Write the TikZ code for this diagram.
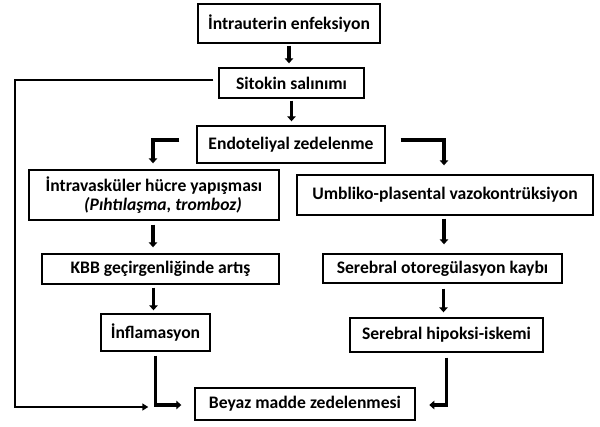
\documentclass[tikz,border=0pt]{standalone}
\usepackage{fontspec}
\setmainfont{Carlito}
\usetikzlibrary{arrows.meta, positioning}

\begin{document}
\begin{tikzpicture}[x=1pt,y=-1pt,
  every node/.style={font=\fontsize{17.6}{19.5}\selectfont\bfseries},
  box/.style={draw,line width=1.4pt,inner sep=0pt,align=center},
  flow/.style={line width=3.6pt,-{Triangle[length=5pt,width=8.5pt]}},
  thinflow/.style={line width=2pt,-{Triangle[length=6pt,width=7pt]}}]
  \useasboundingbox (0,0) rectangle (600,426);

  \node[box,minimum width=182pt,minimum height=39pt] (intra)   at (289,23.5)  {İntrauterin enfeksiyon};
  \node[box,minimum width=145pt,minimum height=30pt] (sitokin) at (291.5,83)  {Sitokin salınımı};
  \node[box,minimum width=188pt,minimum height=37pt] (endo)    at (291,144.5) {Endoteliyal zedelenme};
  \node[box,minimum width=250pt,minimum height=50pt] (intrav)  at (154,195)   {İntravasküler hücre yapışması\\ \hspace*{18pt}\itshape (Pıhtılaşma, tromboz)};
  \node[box,minimum width=296pt,minimum height=40pt] (umbl)    at (445,195)   {Umbliko-plasental vazokontrüksiyon};
  \node[box,minimum width=237pt,minimum height=30pt] (kbb)     at (160.5,269) {KBB geçirgenliğinde artış};
  \node[box,minimum width=239pt,minimum height=29pt] (sereoto) at (442.5,268.5) {Serebral otoregülasyon kaybı};
  \node[box,minimum width=109pt,minimum height=37pt] (infl)    at (155.5,332.5) {İnflamasyon};
  \node[box,minimum width=193pt,minimum height=34pt] (hipoksi) at (446.5,335) {Serebral hipoksi-iskemi};
  \node[box,minimum width=220pt,minimum height=32pt] (beyaz)   at (305,404)   {Beyaz madde zedelenmesi};
  \coordinate (rail) at (14.5,80);

  \draw[flow,shorten <=2pt,shorten >=4pt] (intra.south) -- (intra.south |- sitokin.north);
  \draw[flow,shorten <=2pt,shorten >=4pt] (sitokin.south) -- (sitokin.south |- endo.north);
  \draw[flow,shorten >=6pt] ([xshift=-17pt,yshift=4.5pt]endo.west) -| ([xshift=-1pt]intrav.north);
  \draw[flow,shorten >=9pt] ([xshift=15pt,yshift=4.5pt]endo.east) -| ([xshift=-1pt]umbl.north);
  \draw[flow,shorten <=4pt,shorten >=6pt] ([xshift=-1pt]intrav.south) -- ([xshift=-1pt]intrav.south |- kbb.north);
  \draw[flow,shorten <=3pt,shorten >=9pt] ([xshift=-1pt]umbl.south) -- ([xshift=-1pt]umbl.south |- sereoto.north);
  \draw[flow,shorten <=3pt,shorten >=3pt] ([xshift=-2pt]kbb.south -| infl) -- ([xshift=-2pt]infl.north);
  \draw[flow,shorten <=5pt,shorten >=5pt] ([xshift=1pt]sereoto.south) -- ([xshift=1pt]sereoto.south |- hipoksi.north);
  \draw[flow,shorten <=4pt] (infl.south) |- ([xshift=-13pt,yshift=-1pt]beyaz.west);
  \draw[flow,shorten <=5pt] (hipoksi.south) |- ([xshift=13.6pt,yshift=-1pt]beyaz.east);
  \draw[thinflow] ([xshift=-5pt,yshift=3pt]sitokin.west) -- (rail) |- ([xshift=-46pt,yshift=-3pt]beyaz.west);
\end{tikzpicture}
\end{document}
